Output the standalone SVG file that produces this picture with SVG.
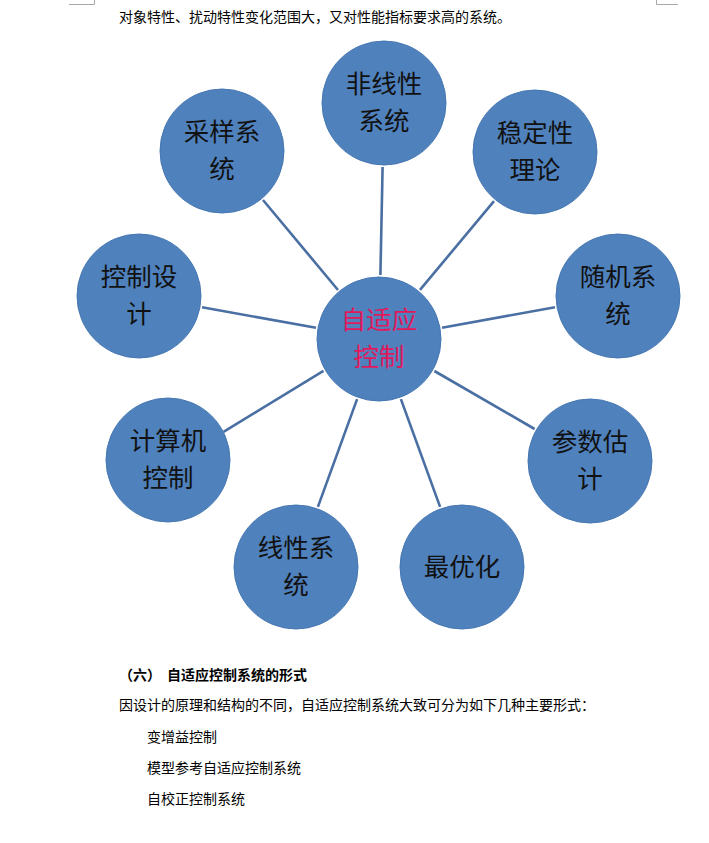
<svg xmlns="http://www.w3.org/2000/svg" width="709" height="843" viewBox="0 0 709 843">
<style>
.node circle{fill:#4F81BD;stroke:#4677B2;stroke-width:1}
.node text{font-family:"Noto Sans CJK SC","Noto Sans",sans-serif;font-size:25.5px;fill:#111;text-anchor:middle}
#center text{fill:#E0185C}
.conn line{stroke:#4A6FA3;stroke-width:2.6;stroke-linecap:butt}
.doc{font-family:"Noto Sans CJK SC","Noto Sans",sans-serif;font-size:14px;fill:#000}
.bold{font-weight:bold}
.mark{stroke:#A8A8A8;stroke-width:1;fill:none}
</style>
<rect width="709" height="843" fill="#fff"/>
<path class="mark" d="M69 4.5H94.5V0M678 4.5H656.5V0"/>
<text class="doc" x="119" y="22">对象特性、扰动特性变化范围大，又对性能指标要求高的系统。</text>
<g class="conn">
<line x1="380.4" y1="275" x2="382.6" y2="167"/>
<line x1="420" y1="289.8" x2="494" y2="201.2"/>
<line x1="442" y1="327.7" x2="555" y2="307.3"/>
<line x1="434.4" y1="371" x2="534.6" y2="429"/>
<line x1="400.9" y1="399.1" x2="440.1" y2="506.9"/>
<line x1="357.1" y1="399.1" x2="317.9" y2="506.9"/>
<line x1="323.5" y1="370.8" x2="223.5" y2="431.8"/>
<line x1="316" y1="327.7" x2="202" y2="307.3"/>
<line x1="338" y1="290" x2="263" y2="200"/>
</g>
<g id="center" class="node"><circle cx="379" cy="339" r="62"/><text x="379" y="329">自适应</text><text x="379" y="366">控制</text></g>
<g id="n1" class="node"><circle cx="384" cy="103" r="62"/><text x="384" y="93">非线性</text><text x="384" y="130">系统</text></g>
<g id="n2" class="node"><circle cx="535" cy="152" r="62"/><text x="535" y="142">稳定性</text><text x="535" y="179">理论</text></g>
<g id="n3" class="node"><circle cx="618" cy="296" r="62"/><text x="618" y="286">随机系</text><text x="618" y="323">统</text></g>
<g id="n4" class="node"><circle cx="590" cy="461" r="62"/><text x="590" y="451">参数估</text><text x="590" y="488">计</text></g>
<g id="n5" class="node"><circle cx="462" cy="567" r="62"/><text x="462" y="576">最优化</text></g>
<g id="n6" class="node"><circle cx="296" cy="567" r="62"/><text x="296" y="557">线性系</text><text x="296" y="594">统</text></g>
<g id="n7" class="node"><circle cx="168" cy="460" r="62"/><text x="168" y="450">计算机</text><text x="168" y="487">控制</text></g>
<g id="n8" class="node"><circle cx="139" cy="296" r="62"/><text x="139" y="286">控制设</text><text x="139" y="323">计</text></g>
<g id="n9" class="node"><circle cx="222" cy="151" r="62"/><text x="222" y="141">采样系</text><text x="222" y="178">统</text></g>
<text class="doc bold" x="119" y="680">（六）</text>
<text class="doc bold" x="167" y="680">自适应控制系统的形式</text>
<text class="doc" x="119" y="710">因设计的原理和结构的不同，自适应控制系统大致可分为如下几种主要形式：</text>
<text class="doc" x="147" y="742">变增益控制</text>
<text class="doc" x="147" y="773">模型参考自适应控制系统</text>
<text class="doc" x="147" y="804">自校正控制系统</text>
</svg>
